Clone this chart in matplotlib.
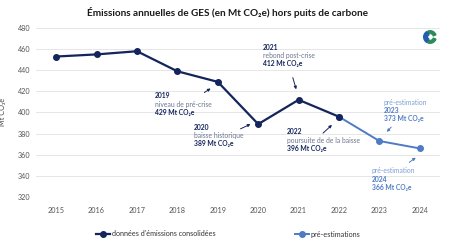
import matplotlib.pyplot as plt
import matplotlib as mpl
import numpy as np
from matplotlib.patches import Wedge

years = ['2015', '2016', '2017', '2018', '2019', '2020', '2021', '2022', '2023', '2024']
consolidated = [453, 455, 458, 439, 429, 389, 412, 396]
estimates = [373, 366]

navy = '#14245c'
blue = '#4f7bc4'
lightblue = '#7d9fd6'
greytxt = '#6b7590'

mpl.rcParams['font.family'] = ['Lato', 'DejaVu Sans']

W, H = 455, 241
fig = plt.figure(figsize=(W / 100, H / 100), dpi=100)
ax = fig.add_axes([36 / W, 1 - 197 / H, (440 - 36) / W, (197 - 28) / H])


def fp(x, y):
    # top-left pixel -> figure fraction
    return (x / W, 1 - y / H)


x_all = np.arange(len(years))
x_cons = x_all[:len(consolidated)]
x_est = x_all[len(consolidated) - 1:]
y_est = [consolidated[-1]] + estimates

ax.plot(x_est, y_est, color=blue, lw=1.4, marker='o', ms=4, zorder=3,
        label='pré-estimations')
ax.plot(x_cons, consolidated, color=navy, lw=1.6, marker='o', ms=4, zorder=4,
        label="données d'émissions consolidées")

ax.set_xlim(-0.5, len(years) - 0.5)
ax.set_ylim(320, 480)
ax.set_yticks(np.arange(320, 481, 20))
ax.set_xticks(x_all)
ax.set_xticklabels(years)
ax.tick_params(length=0, labelsize=5.2, labelcolor='#555555')
ax.tick_params(axis='x', pad=7)
ax.tick_params(axis='y', pad=4)
ax.grid(axis='y', color='#e6e6e6', lw=0.7)
ax.set_axisbelow(True)
for s in ax.spines.values():
    s.set_visible(False)
ax.set_ylabel('Mt CO₂e', fontsize=5.2, color='#444444')
ax.yaxis.set_label_coords(-(36 - 6) / (440 - 36), (197 - 112) / (197 - 28))

fig.text(0.5, fp(0, 12)[1], 'Émissions annuelles de GES (en Mt CO₂e) hors puits de carbone',
         ha='center', va='center', fontsize=7.2, fontweight='bold', color='#1a1a1a')

# annotations: (x, y of first line, lines, arrow start, arrow end)
fs = 4.9
notes = [
    (155, 96, [('2019', navy, 'bold'), ('niveau de pré-crise', greytxt, 'normal'),
               ('429 Mt CO₂e', navy, 'bold')], (202, 94), (213, 87)),
    (194, 127, [('2020', navy, 'bold'), ('baisse historique', greytxt, 'normal'),
                ('389 Mt CO₂e', navy, 'bold')], (238, 130), (253, 123)),
    (263, 47, [('2021', navy, 'bold'), ('rebond post-crise', greytxt, 'normal'),
               ('412 Mt CO₂e', navy, 'bold')], (292, 75), (297, 92)),
    (287, 132, [('2022', navy, 'bold'), ('poursuite de de la baisse', greytxt, 'normal'),
                ('396 Mt CO₂e', navy, 'bold')], (321, 135), (334, 123)),
    (384, 102, [('pré-estimation', lightblue, 'normal'), ('2023', blue, 'bold'),
                ('373 Mt CO₂e', blue, 'bold')], (393, 125), (385, 134)),
    (372, 171, [('pré-estimation', lightblue, 'normal'), ('2024', blue, 'bold'),
                ('366 Mt CO₂e', blue, 'bold')], (407, 164), (418, 156)),
]
for x0, y0, lines, a0, a1 in notes:
    for k, (txt, col, wt) in enumerate(lines):
        fig.text(*fp(x0, y0 + k * 8.3), txt, ha='left', va='center', fontsize=fs,
                 color=col, fontweight=wt)
    acol = blue if lines[0][0].startswith('pré') else navy
    fig.add_artist(mpl.patches.FancyArrowPatch(fp(*a0), fp(*a1), transform=fig.transFigure,
                                               arrowstyle='-|>', mutation_scale=4,
                                               color=acol, lw=0.7))

leg = fig.legend(handles=ax.get_lines()[::-1], loc='center', bbox_to_anchor=(228 / W, 1 - 234 / H),
                 ncol=2, frameon=False, fontsize=5.2, handlelength=2.0, handletextpad=0.2,
                 columnspacing=11, labelcolor='#333333')

# small logo
lax = fig.add_axes([423 / W, 1 - 44 / H, 14 / W, 14 / H])
lax.set_xlim(-1, 1)
lax.set_ylim(-1, 1)
lax.set_aspect('equal')
lax.axis('off')
lax.add_patch(Wedge((0, 0), 0.9, 20, 110, width=0.4, color='#2e8b57'))
lax.add_patch(Wedge((0, 0), 0.9, -110, -20, width=0.4, color='#2e8b57'))
lax.add_patch(Wedge((0, 0), 0.9, 120, 240, width=0.55, color='#1f5fae'))

fig.savefig('out.png', dpi=100)
